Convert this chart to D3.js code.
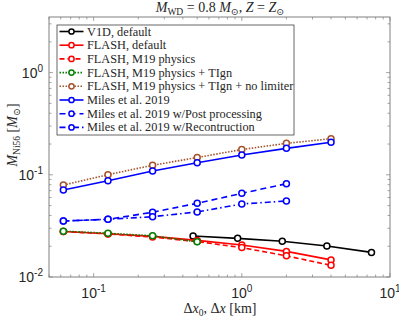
<!DOCTYPE html>
<html>
<head>
<meta charset="utf-8">
<script src="https://cdn.jsdelivr.net/npm/d3@7"></script>
<style>
  body { margin: 0; background: #fff; }
  svg { display: block; }
  .tick-label { font-family: "Liberation Sans", Arial, sans-serif; font-size: 14px; fill: #262626; }
  .serif { font-family: "Liberation Serif", "DejaVu Serif", serif; fill: #262626; }
</style>
</head>
<body>
<svg id="chart" width="399" height="321"></svg>
<script>
// resolution (km) for each run
const xFine = [0.0625, 0.125, 0.25, 0.5, 1, 2, 4];
const xV1D = [0.469, 0.9375, 1.875, 3.75, 7.5];

// Ni56 mass (Msun)
const v1dDefault = [0.0252, 0.0239, 0.0224, 0.0201, 0.0174];
const flashDefault = [0.0279, 0.0265, 0.0250, 0.0228, 0.0206, 0.0178, 0.0147];
const flashM19 = [0.0279, 0.0264, 0.0246, 0.0222, 0.0194, 0.0161, 0.0130];
const flashTIgn = [0.0281, 0.0268, 0.0253, 0.0221];
const flashNoLimiter = [0.0794, 0.1002, 0.124, 0.1476, 0.1768, 0.2032, 0.2254];
const miles = [0.0710, 0.0875, 0.1089, 0.1312, 0.1564, 0.1815, 0.208];
const milesPost = [0.0353, 0.0367, 0.0430, 0.0526, 0.0659, 0.0818];
const milesRecon = [0.0353, 0.0367, 0.0389, 0.0433, 0.0518, 0.0554];

const xTicks = [0.1, 1, 10];
const xTickExp = ["-1", "0", "1"];
const yTicks = [0.01, 0.1, 1];
const yTickExp = ["-2", "-1", "0"];

const series = [
  { name: "V1D, default", xs: xV1D, ys: v1dDefault, color: "#000000", dash: null },
  { name: "FLASH, default", xs: xFine, ys: flashDefault, color: "#ff0000", dash: null },
  { name: "FLASH, M19 physics", xs: xFine, ys: flashM19, color: "#ff0000", dash: "5,3" },
  { name: "FLASH, M19 physics + TIgn", xs: xFine, ys: flashTIgn, color: "#008000", dash: "1.5,1.5" },
  { name: "FLASH, M19 physics + TIgn + no limiter", xs: xFine, ys: flashNoLimiter, color: "#a5522b", dash: "1.5,1.5" },
  { name: "Miles et al. 2019", xs: xFine, ys: miles, color: "#0000ff", dash: null },
  { name: "Miles et al. 2019 w/Post processing", xs: xFine, ys: milesPost, color: "#0000ff", dash: "6,4" },
  { name: "Miles et al. 2019 w/Recontruction", xs: xFine, ys: milesRecon, color: "#0000ff", dash: "6,3,1.5,3" }
];

const margin = { top: 17, right: 9, bottom: 44, left: 49 };
const width = 399 - margin.left - margin.right;
const height = 321 - margin.top - margin.bottom;

const svg = d3.select("#chart");
const g = svg.append("g").attr("transform", `translate(${margin.left},${margin.top})`);

const x = d3.scaleLog().domain([0.05, 10]).range([0, width]);
const y = d3.scaleLog().domain([0.01, 3.5]).range([height, 0]);

// minor/major ticks, drawn inward on all four sides
function logTicks(lo, hi) {
  const out = [];
  for (let e = Math.floor(Math.log10(lo)); e <= Math.ceil(Math.log10(hi)); e++) {
    for (let m = 1; m <= 9; m++) {
      const v = m * Math.pow(10, e);
      if (v >= lo * 0.9999 && v <= hi * 1.0001) out.push({ v: v, major: m === 1 });
    }
  }
  return out;
}

const tickColor = "#808080";
logTicks(0.05, 10).forEach(t => {
  const len = t.major ? 4 : 2.5;
  const px = x(t.v);
  g.append("line").attr("x1", px).attr("x2", px).attr("y1", height).attr("y2", height - len)
    .attr("stroke", tickColor).attr("stroke-width", 0.7);
  g.append("line").attr("x1", px).attr("x2", px).attr("y1", 0).attr("y2", len)
    .attr("stroke", tickColor).attr("stroke-width", 0.7);
});
logTicks(0.01, 3.5).forEach(t => {
  const len = t.major ? 4 : 2.5;
  const py = y(t.v);
  g.append("line").attr("x1", 0).attr("x2", len).attr("y1", py).attr("y2", py)
    .attr("stroke", tickColor).attr("stroke-width", 0.7);
  g.append("line").attr("x1", width).attr("x2", width - len).attr("y1", py).attr("y2", py)
    .attr("stroke", tickColor).attr("stroke-width", 0.7);
});

g.append("rect").attr("width", width).attr("height", height)
  .attr("fill", "none").attr("stroke", tickColor).attr("stroke-width", 1);

// tick labels like 10^-1
xTicks.forEach((v, i) => {
  const t = g.append("text").attr("class", "tick-label")
    .attr("x", x(v)).attr("y", height + 21).attr("text-anchor", "middle");
  t.append("tspan").text("10");
  t.append("tspan").attr("dy", -6).attr("font-size", 10).text(xTickExp[i]);
});
yTicks.forEach((v, i) => {
  const t = g.append("text").attr("class", "tick-label")
    .attr("x", -6).attr("y", y(v) + 5).attr("text-anchor", "end");
  t.append("tspan").text("10");
  t.append("tspan").attr("dy", -6).attr("font-size", 10).text(yTickExp[i]);
});

// lines and markers
const line = d3.line().x(d => x(d[0])).y(d => y(d[1]));
series.forEach(s => {
  const pts = s.ys.map((v, i) => [s.xs[i], v]);
  g.append("path").datum(pts).attr("d", line)
    .attr("fill", "none").attr("stroke", s.color).attr("stroke-width", 1.6)
    .attr("stroke-dasharray", s.dash);
  g.selectAll(null).data(pts).enter().append("circle")
    .attr("cx", d => x(d[0])).attr("cy", d => y(d[1])).attr("r", 3)
    .attr("fill", "#fff").attr("stroke", s.color).attr("stroke-width", 1.5);
});

// legend
const lg = g.append("g").attr("transform", "translate(8,8)");
lg.append("rect").attr("width", 237).attr("height", 110)
  .attr("fill", "#fff").attr("stroke", "#262626").attr("stroke-width", 0.7);
series.forEach((s, i) => {
  const ly = 6.5 + i * 13.7;
  lg.append("line").attr("x1", 2.5).attr("x2", 26.5).attr("y1", ly).attr("y2", ly)
    .attr("stroke", s.color).attr("stroke-width", 1.6).attr("stroke-dasharray", s.dash);
  lg.append("circle").attr("cx", 14.5).attr("cy", ly).attr("r", 2.6)
    .attr("fill", "#fff").attr("stroke", s.color).attr("stroke-width", 1.5);
  lg.append("text").attr("class", "serif").attr("x", 30).attr("y", ly + 4)
    .attr("font-size", 12.3).text(s.name);
});

// title
const title = svg.append("text").attr("class", "serif").attr("x", 220).attr("y", 12)
  .attr("text-anchor", "middle").attr("font-size", 14);
title.append("tspan").attr("font-style", "italic").text("M");
title.append("tspan").attr("font-size", 9.5).attr("dy", 2.5).text("WD");
title.append("tspan").attr("dy", -2.5).text(" = 0.8 ");
title.append("tspan").attr("font-style", "italic").text("M");
title.append("tspan").attr("font-size", 9.5).attr("dy", 2.5).text("⊙");
title.append("tspan").attr("dy", -2.5).text(", ");
title.append("tspan").attr("font-style", "italic").text("Z");
title.append("tspan").text(" = ");
title.append("tspan").attr("font-style", "italic").text("Z");
title.append("tspan").attr("font-size", 9.5).attr("dy", 2.5).text("⊙");

// axis titles
const xl = svg.append("text").attr("class", "serif").attr("x", 220).attr("y", 313)
  .attr("text-anchor", "middle").attr("font-size", 14);
xl.append("tspan").text("Δ");
xl.append("tspan").attr("font-style", "italic").text("x");
xl.append("tspan").attr("font-size", 9.5).attr("dy", 2.5).text("0");
xl.append("tspan").attr("dy", -2.5).text(", Δ");
xl.append("tspan").attr("font-style", "italic").text("x");
xl.append("tspan").text(" [km]");

const yl = svg.append("text").attr("class", "serif")
  .attr("transform", "translate(17,135) rotate(-90)")
  .attr("text-anchor", "middle").attr("font-size", 14);
yl.append("tspan").attr("font-style", "italic").text("M");
yl.append("tspan").attr("font-size", 9.5).attr("dy", 2.5).text("Ni56");
yl.append("tspan").attr("dy", -2.5).text(" [");
yl.append("tspan").attr("font-style", "italic").text("M");
yl.append("tspan").attr("font-size", 9.5).attr("dy", 2.5).text("⊙");
yl.append("tspan").attr("dy", -2.5).text("]");
</script>
</body>
</html>
